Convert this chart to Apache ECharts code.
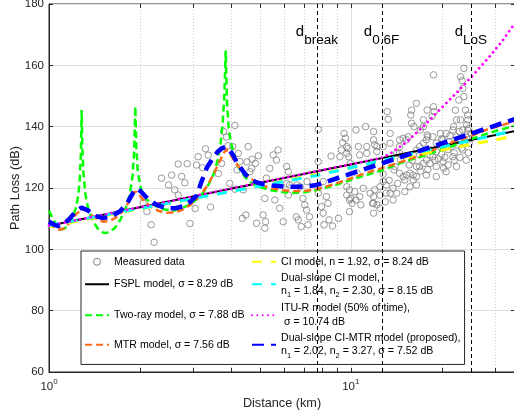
<!DOCTYPE html>
<html><head><meta charset="utf-8">
<script src="https://cdn.jsdelivr.net/npm/echarts@6/dist/echarts.min.js"></script>
<style>html,body{margin:0;padding:0;background:#fff}#c{width:514px;height:419px}</style>
</head><body><div id="c"></div>
<script>
// ---------------- data ----------------
const measuredDist = [2.05,2.11,2.18,2.23,2.93,3.05,3.43,4.37,4.49,2.36,2.49,2.55,2.61,2.68,2.75,2.82,2.68,2.87,3.08,3.12,3.23,3.30,3.37,3.64,3.73,3.79,3.87,3.92,3.97,4.06,4.13,4.20,4.24,4.29,4.13,4.57,4.53,4.71,4.83,4.94,4.40,4.63,4.69,4.87,
5.12,5.22,5.19,5.25,5.53,5.67,5.74,5.81,5.97,6.13,6.21,6.21,6.60,6.70,6.85,7.04,7.13,7.22,7.30,7.80,7.80,8.10,8.00,8.10,8.30,8.40,8.60,8.70,9.10,9.20,9.30,9.40,9.50,9.60,5.39,6.13,6.27,5.19,5.60,6.94,7.80,9.80,10.6,10.7,12.0,12.2,12.8,9.70,10.0,10.4,10.8,9.90,12.0,12.5,13.1,8.15,8.47,9.90,10.1,11.8,12.2,13.0,6.63,6.80,7.16,9.70,9.84,9.97,10.5,11.2,11.3,11.6,
13.2,13.3,13.5,13.5,14.2,14.6,15.8,15.9,16.5,16.2,17.0,17.4,17.9,18.8,18.8,18.6,17.9,19.8,21.9,22.2,22.8,23.1,23.4,23.7,23.5,23.7,24.0,23.1,24.2,24.4,22.4,21.8,20.7,20.2,19.2,18.9,17.4,18.0,17.8,16.9,16.5,15.9,15.5,14.9,14.5,14.5,11.9,11.9,12.2,10.4,9.70,11.3,
9.90,10.7,11.6,11.9,12.5,12.8,13.1,13.5,13.8,14.3,14.5,15.1,15.3,15.7,16.1,16.5,16.9,17.4,17.8,18.3,18.7,19.2,20.2,21.2,22.4,23.5,24.4,9.70,10.3,11.0,11.9,13.8,14.2,15.1,15.7,16.5,12.5,11.9,
24.4,14.5,15.3,17.4,18.7,22.9,16.9,18.3,16.5,18.3,19.2,20.2,21.8,23.5,17.8,19.2,16.1,14.9,13.9,20.7,22.4,24.1,24.7,25.0,
19.5,20.0,20.5,21.0,21.5,22.0,22.6,23.0,23.3,23.8,24.2,24.6,21.3,20.0,19.0,18.0,17.0,21.0,22.0,23.0,24.5,24.8,20.3,15.6,16.0,14.0,13.4,12.8];
const measuredPL = [115.0,112.3,108.0,102.3,108.4,113.3,113.8,110.1,111.2,123.2,121.0,124.2,119.4,117.7,123.8,121.7,127.8,127.9,127.5,130.2,126.6,132.8,130.7,124.7,128.0,138.4,136.6,133.8,121.5,133.5,140.4,125.9,131.3,128.6,119.6,133.5,128.5,129.4,128.0,130.5,119.4,125.3,126.4,108.5,
111.2,109.0,106.9,123.2,130.8,129.1,132.4,113.4,109.0,127.0,125.3,117.7,110.6,109.6,107.4,114.5,112.8,108.0,110.6,139.1,128.6,122.1,113.9,111.8,117.2,115.0,130.4,107.6,110.1,130.2,132.4,134.8,137.8,136.2,126.4,121.5,121.0,116.6,116.1,116.6,118.3,132.9,133.5,130.8,134.1,131.9,133.5,117.7,116.6,116.1,114.5,119.4,119.4,117.7,118.3,108.0,109.6,112.3,115.0,115.0,114.5,115.5,121.0,120.4,122.1,133.5,130.2,128.0,124.8,140.0,133.5,127.0,
144.9,142.4,137.8,134.6,131.3,129.1,143.8,145.4,147.6,140.0,138.9,142.2,145.4,146.5,156.9,143.3,137.3,137.8,140.0,145.4,148.7,156.3,155.0,159.0,152.5,149.8,145.4,142.2,140.6,138.9,142.2,138.9,137.8,135.7,134.6,144.9,140.0,136.7,135.7,133.5,132.4,141.1,136.7,136.2,135.7,131.3,135.7,138.4,133.5,138.9,131.3,131.3,
116.1,117.2,118.3,115.0,120.4,122.1,121.0,118.3,119.9,121.5,124.8,122.6,124.2,124.8,122.6,123.7,127.0,128.0,129.1,130.8,130.2,131.9,133.5,135.1,136.7,138.9,142.2,120.4,118.8,119.9,117.2,116.1,118.3,118.8,120.4,121.0,113.4,111.8,
143.8,133.5,135.7,134.6,136.7,138.4,130.8,132.4,127.0,128.0,127.0,128.6,130.2,132.4,124.2,123.7,124.2,123.7,125.9,125.3,127.0,129.1,134.6,137.8,
129.5,131.0,130.0,132.5,133.5,131.5,134.0,135.5,133.0,135.0,136.5,139.5,137.0,136.0,129.0,126.0,125.5,127.5,129.0,130.0,131.5,136.0,126.5,127.5,129.0,127.0,122.5,124.5];

const fsplDist = [1, 35];
const fsplPL = [107.7, 138.6];

const twoRayDist = [1.00,1.03,1.06,1.09,1.12,1.16,1.20,1.23,1.25,1.265,1.275,1.283,1.29,1.30,1.32,1.35,1.40,1.46,1.52,1.58,1.65,1.72,1.79,1.85,1.89,1.915,1.932,1.947,1.97,2.02,2.10,2.25,2.42,2.58,2.75,2.92,3.08,3.25,3.40,3.52,3.62,3.70,3.76,3.81,3.85,3.89,3.94,4.00,4.07,4.18,4.30,4.45,4.62,4.80,5.10,5.50,5.90,6.40,7.00,7.70,8.50,9.50,10.5,12.6,15.0,18.3,21.2,24.8,28.0,31.0,35.0];
const twoRayPL = [112.6,110.0,107.8,106.5,106.6,107.9,110.6,113.8,117.5,123.0,131.0,145.4,133.0,125.0,118.0,113.0,109.0,106.5,105.3,105.5,106.9,109.5,113.0,117.8,123.5,132.0,146.6,133.0,125.0,119.5,116.3,114.2,113.0,112.6,113.3,114.6,116.2,118.6,121.6,124.8,129.0,134.3,140.8,150.0,164.8,147.5,139.5,135.2,132.2,128.3,125.8,123.7,122.1,121.0,120.0,119.2,118.7,118.4,118.6,119.3,120.4,121.9,123.3,125.7,128.5,131.2,133.3,135.8,137.6,138.9,140.3];

const mtrDist = [1.00,1.04,1.08,1.12,1.17,1.23,1.29,1.33,1.38,1.45,1.52,1.60,1.68,1.76,1.84,1.91,1.95,2.00,2.08,2.18,2.30,2.45,2.60,2.75,2.95,3.15,3.35,3.52,3.68,3.80,3.87,3.95,4.07,4.20,4.35,4.52,4.75,5.10,5.50,5.90,6.50,7.10,7.70,8.50,9.50,10.7,12.5,15.0,17.0,19.5,22.0,25.0,28.5,31.5,35.0];
const mtrPL = [108.6,107.2,106.4,106.8,108.6,111.5,113.0,112.8,111.2,109.6,109.0,109.4,110.6,112.6,115.5,118.6,118.8,117.5,115.5,113.8,112.6,111.9,112.0,112.8,114.6,117.2,120.8,124.8,128.8,131.5,132.6,131.6,129.6,127.6,125.7,124.2,122.5,120.8,119.8,119.3,119.0,119.1,119.6,120.8,122.3,124.2,126.3,128.8,130.7,133.0,135.2,137.0,139.2,140.4,141.8];

const ciDist = [1, 35];
const ciPL = [107.4, 137.0];

const dualCiDist = [1, 7.72, 35];
const dualCiPL = [107.8, 124.1, 138.8];

const ituDist = [1, 12.64, 13.5, 15.3, 17.35, 19.7, 22.4, 25.4, 28.9, 31.9, 35];
const ituPL = [107.7, 129.8, 131.2, 135.0, 140.0, 145.5, 151.0, 156.8, 163.0, 168.2, 173.8];

const ciMtrDist = [1.00,1.04,1.075,1.12,1.17,1.22,1.28,1.34,1.42,1.51,1.60,1.72,1.82,1.90,1.95,2.02,2.12,2.27,2.45,2.62,2.78,2.95,3.08,3.20,3.33,3.48,3.62,3.75,3.85,3.95,4.08,4.18,4.30,4.45,4.63,4.85,5.10,5.50,6.00,6.60,7.20,7.72,35.0];
const ciMtrPL = [109.0,108.0,107.6,108.3,110.0,112.1,113.6,112.8,110.9,110.2,110.6,112.4,115.2,118.5,119.8,118.8,116.6,114.5,113.4,113.4,114.0,115.6,117.4,122.0,126.5,129.5,131.8,133.0,133.4,132.6,130.6,128.6,126.8,124.7,123.0,121.9,121.3,120.8,120.5,120.4,120.6,121.0,142.5];

const markerDist = [7.72, 12.64, 25.0];
const markerSubs = ['break', '0.6F', 'LoS'];
const minorTicks = [2, 3, 4, 5, 6, 7, 8, 9, 20, 30];
const xMin = 1, xMax = 35;
const yMin = 60, yMax = 180, yStep = 20;

// ---------------- chart ----------------
const FONT = "'Liberation Sans', Arial, Helvetica, sans-serif";
const TXT = '#262626';
const pairs = (xs, ys) => xs.map((x, i) => [x, ys[i]]);

const S_MEAS = 'Measured data';
const S_FSPL = 'FSPL model, σ = 8.29 dB';
const S_TWO = 'Two-ray model, σ = 7.88 dB';
const S_MTR = 'MTR model, σ = 7.56 dB';
const S_CI = 'CI model, n = 1.92, σ = 8.24 dB';
const S_DCI = 'Dual-slope CI model';
const S_ITU = 'ITU-R model (50% of time)';
const S_CIMTR = 'Dual-slope CI-MTR model (proposed)';
const legendText = {};
legendText[S_MEAS] = S_MEAS;
legendText[S_FSPL] = S_FSPL;
legendText[S_TWO] = S_TWO;
legendText[S_MTR] = S_MTR;
legendText[S_CI] = S_CI;
legendText[S_DCI] = 'Dual-slope CI model,\nn{s|1} = 1.84, n{s|2} = 2.30, σ = 8.15 dB';
legendText[S_ITU] = 'ITU-R model (50% of time),\n σ = 10.74 dB';
legendText[S_CIMTR] = 'Dual-slope CI-MTR model (proposed),\nn{s|1} = 2.02, n{s|2} = 3.27, σ = 7.52 dB';

const LEFTW = 134;
const chart = echarts.init(document.getElementById('c'), null, {renderer: 'canvas', width: 514, height: 419});

function lineSeries(name, xs, ys, color, width, dash, extra) {
  return Object.assign({
    type: 'line', name: name, data: pairs(xs, ys), showSymbol: false, symbol: 'none',
    lineStyle: {color: color, width: width, type: dash}, itemStyle: {color: color},
    clip: true, animation: false, silent: true
  }, extra || {});
}

const option = {
  animation: false,
  backgroundColor: '#fff',
  textStyle: {fontFamily: FONT},
  grid: {left: 49, right: -1, top: 4, bottom: 47, show: true, borderColor: TXT, borderWidth: 1, backgroundColor: 'transparent', containLabel: false, outerBoundsMode: 'none'},
  xAxis: [{
    type: 'log', logBase: 10, min: xMin, max: xMax, position: 'bottom',
    axisLine: {show: true, lineStyle: {color: TXT, width: 1}},
    axisTick: {show: true, inside: true, length: 4, lineStyle: {color: TXT}},
    axisLabel: {
      margin: 8, color: TXT, fontSize: 11.5, fontFamily: FONT,
      formatter: function (v) {
        const e = Math.log10(v);
        if (Math.abs(e - Math.round(e)) < 1e-6) return '{b|10}{p|' + Math.round(e) + '}';
        return '';
      },
      rich: {
        b: {fontSize: 11.5, fontFamily: FONT, color: TXT, lineHeight: 14, verticalAlign: 'middle'},
        p: {fontSize: 8, fontFamily: FONT, color: TXT, lineHeight: 14, verticalAlign: 'middle', padding: [0, 0, 11, 0]}
      }
    },
    splitLine: {show: true, lineStyle: {color: '#dfdfdf', width: 1}},
    name: 'Distance (km)', nameLocation: 'middle', nameGap: 25, nameMoveOverlap: false,
    nameTextStyle: {fontSize: 12.7, color: TXT, fontFamily: FONT}
  }, {
    type: 'log', logBase: 10, min: xMin, max: xMax, position: 'top',
    axisLine: {show: false},
    axisTick: {show: true, inside: true, length: 4, lineStyle: {color: TXT}},
    axisLabel: {show: false}, splitLine: {show: false}
  }],
  yAxis: [{
    type: 'value', min: yMin, max: yMax, interval: yStep,
    axisLine: {show: true, lineStyle: {color: TXT, width: 1}},
    axisTick: {show: true, inside: true, length: 4, lineStyle: {color: TXT}},
    axisLabel: {fontSize: 11.5, color: TXT, margin: 5, fontFamily: FONT},
    splitLine: {show: true, lineStyle: {color: '#dfdfdf', width: 1}},
    name: 'Path Loss (dB)', nameLocation: 'middle', nameGap: 27, nameRotate: 90, nameMoveOverlap: false,
    nameTextStyle: {fontSize: 12.7, color: TXT, fontFamily: FONT}
  }, {
    type: 'value', min: yMin, max: yMax, interval: yStep, position: 'right',
    axisLine: {show: false},
    axisTick: {show: true, inside: true, length: 4, lineStyle: {color: TXT}},
    axisLabel: {show: false}, splitLine: {show: false}
  }],
  legend: {
    left: 81, top: 251, width: 380, orient: 'horizontal',
    itemGap: 3, itemWidth: 24, itemHeight: 7,
    padding: [1, 4, 5, 3],
    backgroundColor: '#fff', borderColor: TXT, borderWidth: 1, borderRadius: 0,
    selectedMode: false,
    itemStyle: {opacity: 0},
    formatter: function (name) { return legendText[name]; },
    textStyle: {
      fontSize: 10.6, color: '#000', lineHeight: 13.3, fontFamily: FONT,
      rich: {s: {fontSize: 7.5, fontFamily: FONT, color: '#000', lineHeight: 13.3, verticalAlign: 'middle', padding: [8, 0, 0, 0]}}
    },
    data: [
      {name: S_MEAS, icon: 'circle', itemStyle: {opacity: 1, color: 'rgba(0,0,0,0)', borderColor: '#7f7f7f', borderWidth: 1}, textStyle: {width: LEFTW, lineHeight: 19.5}},
      {name: S_CI, textStyle: {lineHeight: 19.5}},
      {name: S_FSPL, textStyle: {width: LEFTW}},
      {name: S_DCI},
      {name: S_TWO, textStyle: {width: LEFTW}},
      {name: S_ITU},
      {name: S_MTR, textStyle: {width: LEFTW}},
      {name: S_CIMTR}
    ]
  },
  series: [
    {
      type: 'custom', name: 'minor-grid', silent: true, z: 1, clip: false,
      data: minorTicks.map(v => [v]),
      encode: {x: 0},
      renderItem: function (params, api) {
        const v = api.value(0);
        const a = api.coord([v, yMax]);
        const b = api.coord([v, yMin]);
        const x = Math.round(a[0]) + 0.5;
        return {type: 'group', children: [
          {type: 'line', shape: {x1: x, y1: a[1], x2: x, y2: b[1]}, style: {stroke: '#cccccc', lineWidth: 1, lineDash: [1, 2]}},
          {type: 'line', shape: {x1: x, y1: a[1], x2: x, y2: a[1] + 4}, style: {stroke: TXT, lineWidth: 1}},
          {type: 'line', shape: {x1: x, y1: b[1], x2: x, y2: b[1] - 4}, style: {stroke: TXT, lineWidth: 1}}
        ]};
      }
    },
    {
      type: 'scatter', name: S_MEAS, data: pairs(measuredDist, measuredPL),
      symbol: 'circle', symbolSize: 6.5, silent: true,
      itemStyle: {color: 'rgba(0,0,0,0)', borderColor: '#7f7f7f', borderWidth: 1}
    },
    lineSeries(S_FSPL, fsplDist, fsplPL, '#000000', 2, 'solid'),
    lineSeries(S_TWO, twoRayDist, twoRayPL, '#00ff00', 2.5, [7, 4]),
    lineSeries(S_MTR, mtrDist, mtrPL, '#ff6a1a', 2.5, [7, 4]),
    lineSeries(S_CI, ciDist, ciPL, '#ffff00', 3, [10, 9]),
    lineSeries(S_DCI, dualCiDist, dualCiPL, '#00ffff', 3, [10, 9]),
    lineSeries(S_ITU, ituDist, ituPL, '#ff00ff', 2.8, [0.01, 5.3], {lineStyle: {color: '#ff00ff', width: 2.8, type: [0.01, 5.3], cap: 'round'}}),
    lineSeries(S_CIMTR, ciMtrDist, ciMtrPL, '#0000ff', 4.5, [12, 7]),
    {
      type: 'custom', name: 'distance-markers', silent: true, z: 5, clip: false,
      data: markerDist.map((v, i) => [v, i]),
      encode: {x: 0},
      renderItem: function (params, api) {
        const v = api.value(0);
        const i = api.value(1);
        const a = api.coord([v, yMax]);
        const b = api.coord([v, yMin]);
        const t = api.coord([v, 171]);
        const x = Math.round(a[0]) + 0.5;
        return {type: 'group', children: [
          {type: 'line', shape: {x1: x, y1: a[1], x2: x, y2: b[1]}, style: {stroke: '#000', lineWidth: 1, lineDash: [4, 3]}},
          {type: 'text', style: {
            text: '{d|d}{s|' + markerSubs[i] + '}', x: a[0], y: t[1], align: 'center', verticalAlign: 'middle',
            rich: {
              d: {fontSize: 15, fontFamily: FONT, fill: '#000', lineHeight: 20, verticalAlign: 'middle'},
              s: {fontSize: 13.5, fontFamily: FONT, fill: '#000', lineHeight: 20, verticalAlign: 'middle', padding: [18, 0, 0, 0]}
            }
          }}
        ]};
      }
    }
  ]
};
chart.setOption(option);
</script></body></html>
